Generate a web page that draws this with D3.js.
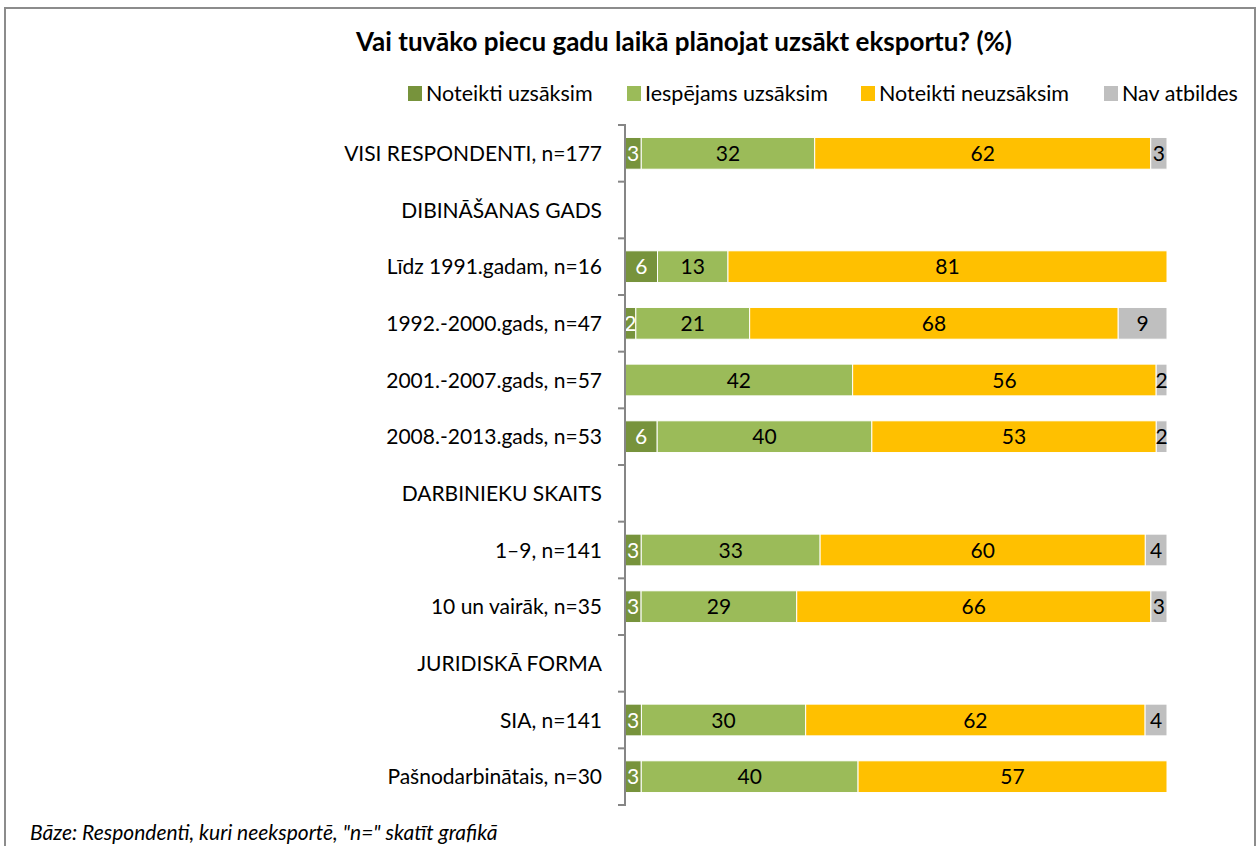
<!DOCTYPE html>
<html>
<head>
<meta charset="utf-8">
<script src="https://cdn.jsdelivr.net/npm/d3@7/dist/d3.min.js"></script>
<style>
  html, body { margin: 0; padding: 0; background: #fff; }
  svg { display: block; }
  text { font-family: Lato, "Open Sans", sans-serif; }
</style>
</head>
<body>
<svg id="chart" width="1260" height="846"></svg>
<script>
// Survey rows (headers have no values)
const categories = [
  "VISI RESPONDENTI, n=177",
  "DIBINĀŠANAS GADS",
  "Līdz 1991.gadam, n=16",
  "1992.-2000.gads, n=47",
  "2001.-2007.gads, n=57",
  "2008.-2013.gads, n=53",
  "DARBINIEKU SKAITS",
  "1–9, n=141",
  "10 un vairāk, n=35",
  "JURIDISKĀ FORMA",
  "SIA, n=141",
  "Pašnodarbinātais, n=30"
];
const seriesNames = ["Noteikti uzsāksim", "Iespējams uzsāksim", "Noteikti neuzsāksim", "Nav atbildes"];
const noteiktiUzsaksim   = [3, null, 6, 2, 0, 6, null, 3, 3, null, 3, 3];
const iespejamsUzsaksim  = [32, null, 13, 21, 42, 40, null, 33, 29, null, 30, 40];
const noteiktiNeuzsaksim = [62, null, 81, 68, 56, 53, null, 60, 66, null, 62, 57];
const navAtbildes        = [3, null, 0, 9, 2, 2, null, 4, 3, null, 4, 0];
const colors = ["#77933C", "#9BBB59", "#FFC000", "#BFBFBF"];
const labelColors = ["#ffffff", "#000000", "#000000", "#000000"];
const footnote = 'Bāze: Respondenti, kuri neeksportē, "n=" skatīt grafikā';
const title = "Vai tuvāko piecu gadu laikā plānojat uzsākt eksportu? (%)";

const seriesValues = [noteiktiUzsaksim, iespejamsUzsaksim, noteiktiNeuzsaksim, navAtbildes];
const rows = categories.map((c, i) => {
  const r = { cat: c, has: seriesValues[0][i] !== null };
  seriesNames.forEach((s, k) => { r[s] = seriesValues[k][i] || 0; });
  return r;
});

const svg = d3.select("#chart");

// outer frame
svg.append("rect").attr("x", 5).attr("y", 8).attr("width", 1250).attr("height", 860)
  .attr("fill", "none").attr("stroke", "#8c8c8c").attr("stroke-width", 2);

svg.append("text").attr("x", 684).attr("y", 51).attr("text-anchor", "middle")
  .attr("font-size", 26).attr("font-weight", "bold").attr("fill", "#000").text(title);

// legend
const legendX = [408, 627, 861, 1104];
const lg = svg.append("g");
seriesNames.forEach((s, k) => {
  lg.append("rect").attr("x", legendX[k]).attr("y", 86).attr("width", 14).attr("height", 15).attr("fill", colors[k]);
  lg.append("text").attr("x", legendX[k] + 18).attr("y", 101).attr("font-size", 21.5).attr("fill", "#000").text(s);
});

const x = d3.scaleLinear().domain([0, 1]).range([625, 1167]);
const y = d3.scaleBand().domain(categories).range([125, 805]).paddingInner(0.44).paddingOuter(0.22);

// 100% stacked: each row normalised to its own total
const stack = d3.stack().keys(seriesNames).offset(d3.stackOffsetExpand);
const stacked = stack(rows);

const barsG = svg.append("g");
stacked.forEach((layer, k) => {
  const g = barsG.append("g");
  layer.forEach((d, i) => {
    const row = rows[i];
    const v = row[seriesNames[k]];
    if (!row.has || v === 0) return;
    const x0 = x(d[0]), x1 = x(d[1]);
    g.append("rect").attr("x", x0).attr("y", y(row.cat)).attr("width", x1 - x0)
      .attr("height", y.bandwidth()).attr("fill", colors[k])
      .attr("stroke", "#ffffff").attr("stroke-width", 1);
    g.append("text").attr("x", (x0 + x1) / 2).attr("y", y(row.cat) + y.bandwidth() / 2)
      .attr("dy", "0.36em").attr("text-anchor", "middle").attr("font-size", 21)
      .attr("fill", labelColors[k]).text(v);
  });
});

// category axis
const axis = d3.axisLeft(y).tickSize(0).tickPadding(23);
const ax = svg.append("g").attr("transform", "translate(625,0)").call(axis);
ax.select(".domain").attr("stroke", "#868686").attr("stroke-width", 2).attr("d", "M-7,125H0V805H-7");
ax.selectAll(".tick text").attr("font-size", 21).attr("fill", "#000").attr("dy", "0.36em")
  .attr("font-family", "Lato, 'Open Sans', sans-serif");
// boundary ticks between rows
const ticks = d3.range(categories.length + 1).map(i => 125 + i * (680 / categories.length));
ax.selectAll("line.bound").data(ticks).enter().append("line").attr("class", "bound")
  .attr("x1", -7).attr("x2", 0).attr("y1", d => d).attr("y2", d => d)
  .attr("stroke", "#868686").attr("stroke-width", 2);

svg.append("text").attr("x", 30).attr("y", 840).attr("font-size", 21)
  .attr("font-style", "italic").attr("fill", "#000").text(footnote);
</script>
</body>
</html>
